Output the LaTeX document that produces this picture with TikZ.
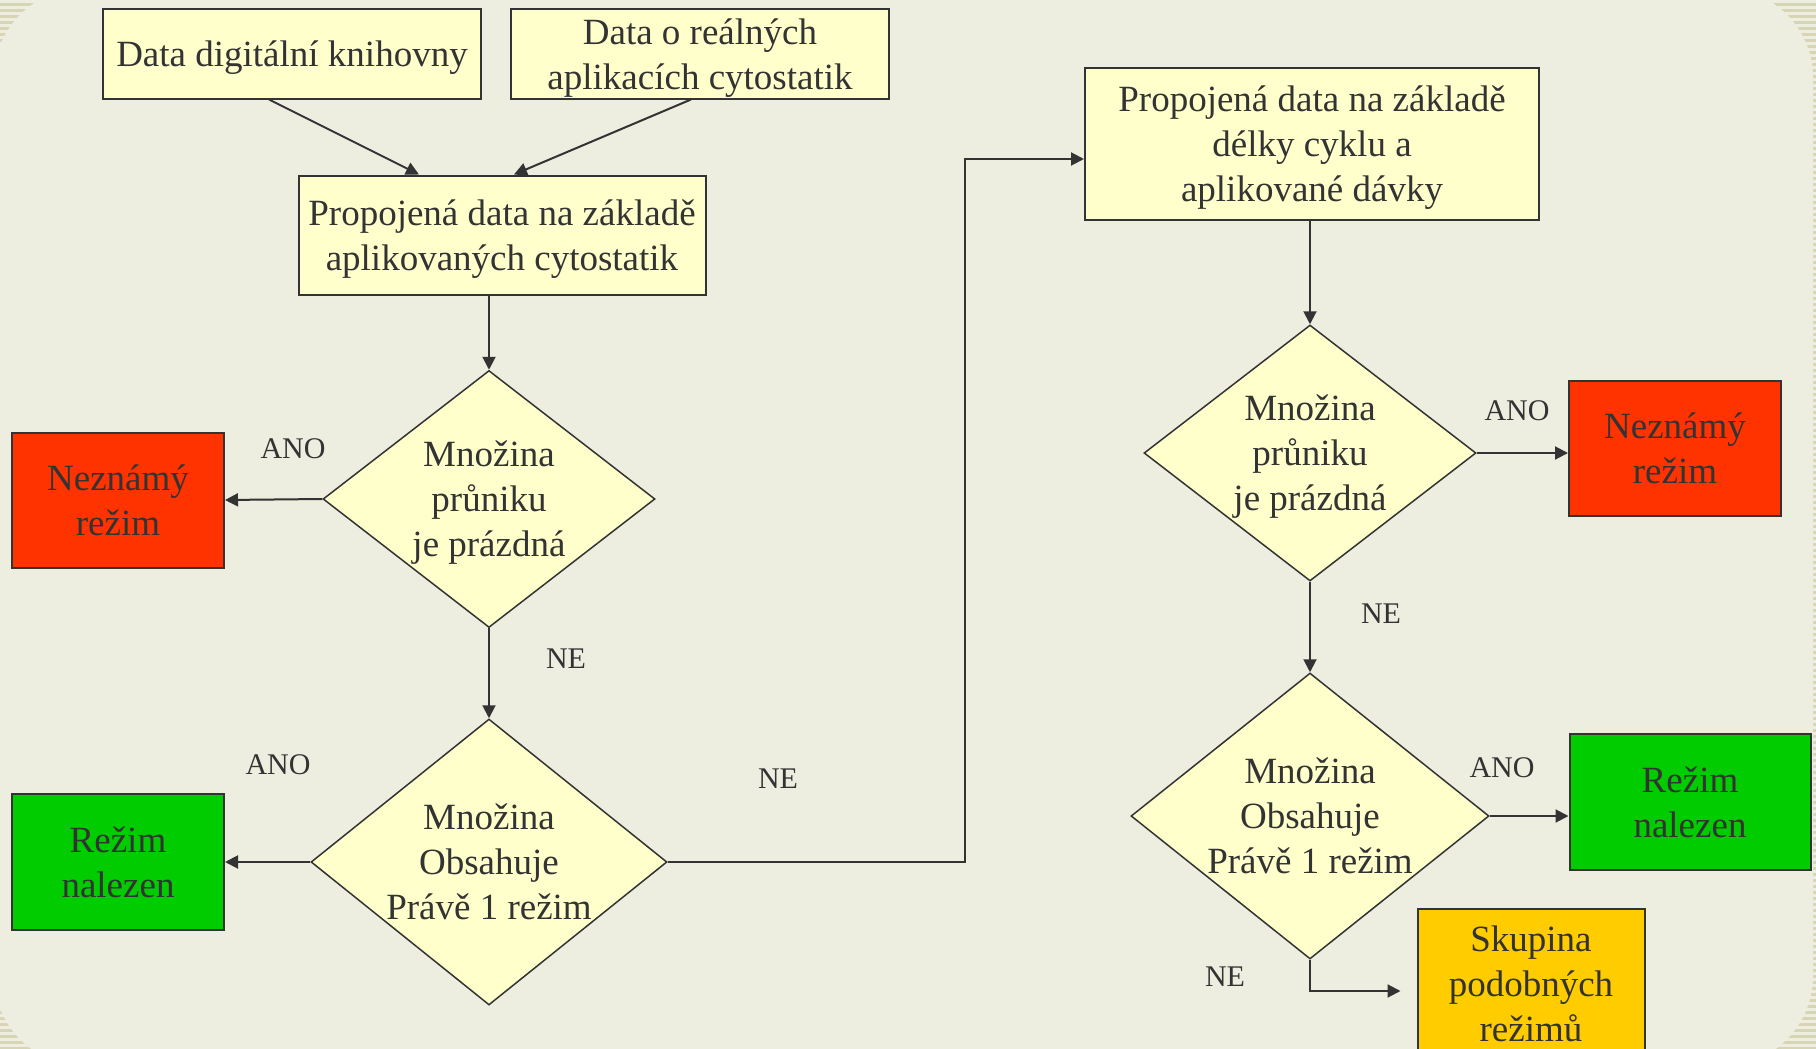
\documentclass[tikz,border=0pt]{standalone}
\usepackage{fontspec}
\setmainfont{Liberation Serif}
\usetikzlibrary{shapes.geometric,arrows.meta}
\definecolor{panel}{HTML}{EEEEE0}
\definecolor{stripe}{HTML}{D8D5B6}
\definecolor{boxfill}{HTML}{FFFFCC}
\definecolor{ink}{HTML}{333333}
\definecolor{unknownred}{HTML}{FF3300}
\definecolor{foundgreen}{HTML}{00CC00}
\definecolor{groupgold}{HTML}{FFCC00}
\tikzset{
	box/.style={draw=ink, line width=2pt, fill=boxfill, text=ink, align=center, inner sep=0pt, text depth=-1pt, font=\fontsize{37}{45}\selectfont},
	decision/.style={diamond, aspect=1.25, draw=ink, line width=1.5pt, fill=boxfill, text=ink, align=center, inner sep=-12pt, text depth=-1pt, font=\fontsize{37}{45}\selectfont},
	lbl/.style={text=ink, font=\fontsize{30}{36}\selectfont},
	flow/.style={draw=ink, line width=2pt, -{Triangle[length=13pt,width=13pt]}},
}
\begin{document}
\begin{tikzpicture}[x=1pt, y=-1pt]
				%background
				\useasboundingbox (0,0) rectangle (1816,1049);
				\clip (0,0) rectangle (1816,1049);
				\fill[stripe] (0,0) rectangle (1816,1049);
				\foreach \y in {0,6,...,1048}{
					\fill[panel] (0,\y) rectangle (1816,\y+3);
				}
				\fill[panel, rounded corners=90pt] (-6,-12) rectangle (1813,1066);
				
				%inputs
				\node[box, minimum width=378, minimum height=89] (library) at (292,54) {Data digitální knihovny};
				\node[box, minimum width=378, minimum height=89] (clinical) at (700,54) {Data o reálných\\aplikacích cytostatik};
				\node[box, minimum width=407, minimum height=119] (linked) at (502,235) {Propojená data na základě\\aplikovaných cytostatik};
				\node[box, minimum width=454, minimum height=152] (cycle) at (1312,144) {Propojená data na základě\\délky cyklu a\\aplikované dávky};
				
				%decisions
				\node[decision, minimum width=332, minimum height=257] (empty1) at (489,499) {Množina\\průniku\\je prázdná};
				\node[decision, minimum width=356, minimum height=286] (single1) at (489,862) {Množina\\Obsahuje\\Právě 1 režim};
				\node[decision, minimum width=332, minimum height=256] (empty2) at (1310,453) {Množina\\průniku\\je prázdná};
				\node[decision, minimum width=358, minimum height=286] (single2) at (1310,816) {Množina\\Obsahuje\\Právě 1 režim};
				
				%results
				\node[box, fill=unknownred, minimum width=212, minimum height=135] (unknown1) at (118,500) {Neznámý\\režim};
				\node[box, fill=foundgreen, minimum width=212, minimum height=136] (found1) at (118,862) {Režim\\nalezen};
				\node[box, fill=unknownred, minimum width=212, minimum height=135] (unknown2) at (1675,448) {Neznámý\\režim};
				\node[box, fill=foundgreen, minimum width=241, minimum height=136] (found2) at (1690,802) {Režim\\nalezen};
				\node[box, fill=groupgold, minimum width=227, minimum height=150] (group) at (1531,984) {Skupina\\podobných\\režimů};
				
				%answers
				\node[lbl] (ano1) at (293,449) {ANO};
				\node[lbl] (ne1) at (566,659) {NE};
				\node[lbl] (ano2) at (278,765) {ANO};
				\node[lbl] (ne2) at (778,779) {NE};
				\node[lbl] (ano3) at (1517,411) {ANO};
				\node[lbl] (ne3) at (1381,614) {NE};
				\node[lbl] (ano4) at (1502,768) {ANO};
				\node[lbl] (ne4) at (1225,977) {NE};
				
				%arrows
				\coordinate (turn) at (965,159);
				\draw[flow] ([xshift=-23pt]library.south) -- ([xshift=-83pt]linked.north);
				\draw[flow] ([xshift=-9pt]clinical.south) -- ([xshift=12pt]linked.north);
				\draw[flow] (linked.south -| empty1.north) -- (empty1.north);
				\draw[flow] (empty1.west) -- (unknown1.east);
				\draw[flow] (empty1.south) -- (single1.north);
				\draw[flow] (single1.west) -- (found1.east);
				\draw[flow] (single1.east) -- (single1.east -| turn) |- ([yshift=-15pt]cycle.west);
				\draw[flow] (cycle.south -| empty2.north) -- (empty2.north);
				\draw[flow] (empty2.east) -- (unknown2.west |- empty2.east);
				\draw[flow] (empty2.south) -- (single2.north);
				\draw[flow] (single2.east) -- (found2.west |- single2.east);
				\draw[flow] (single2.south) |- ([xshift=-16pt,yshift=-7pt]group.west);
\end{tikzpicture}
\end{document}
